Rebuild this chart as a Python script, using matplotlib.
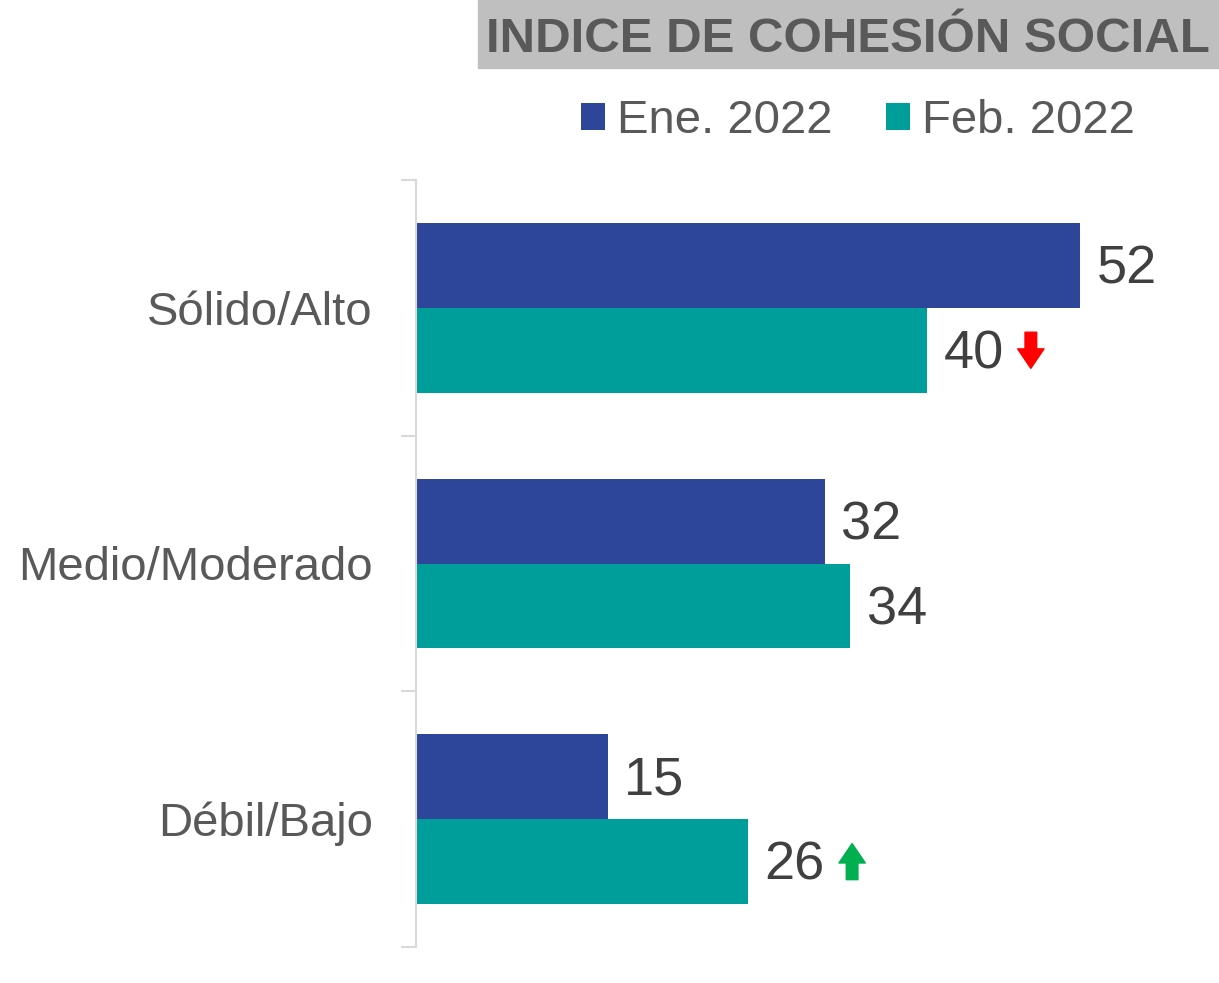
import matplotlib
matplotlib.use("Agg")
import matplotlib.pyplot as plt
import numpy as np
from matplotlib.transforms import offset_copy

categories = ["Sólido/Alto", "Medio/Moderado", "Débil/Bajo"]
series_names = ["Ene. 2022", "Feb. 2022"]
ene = [52, 32, 15]
feb = [40, 34, 26]
# change indicator on Feb values: -1 down, +1 up, 0 none
feb_change = [-1, 0, 1]

c_ene = "#2E4699"
c_feb = "#009E9A"
txt_grey = "#595959"
val_grey = "#404040"

plt.rcParams['font.family'] = ['Liberation Sans', 'DejaVu Sans']

fig = plt.figure(figsize=(12.19, 9.83), dpi=100)
ax = fig.add_axes([416/1219, 36/983, 766/1219, 767/983])

y = np.arange(len(categories))
h = 0.332
b1 = ax.barh(y - h/2, ene, height=h, color=c_ene)
b2 = ax.barh(y + h/2, feb, height=h, color=c_feb)

ax.set_ylim(len(categories) - 0.5, -0.5)
ax.set_xlim(0, 60)

for yi, v in zip(y, ene):
    ax.annotate(str(v), xy=(v, yi - h/2), xytext=(12, -3), textcoords="offset points",
                va="center", ha="left", fontsize=39, color=val_grey)
for yi, v, ch in zip(y, feb, feb_change):
    ax.annotate(str(v), xy=(v, yi + h/2), xytext=(12, -3), textcoords="offset points",
                va="center", ha="left", fontsize=39, color=val_grey)
    if ch != 0:
        col = "#FF0000" if ch < 0 else "#00B050"
        x_off = 75
        if ch < 0:
            start, end = (x_off, 13), (x_off, -13)
        else:
            start, end = (x_off, -13), (x_off, 13)
        t0 = offset_copy(ax.transData, fig=fig, x=start[0], y=start[1], units="points")
        t1 = offset_copy(ax.transData, fig=fig, x=end[0], y=end[1], units="points")
        p0 = t0.transform((v, yi + h/2))
        p1 = t1.transform((v, yi + h/2))
        ax.annotate("", xy=p1, xycoords="figure pixels", xytext=p0, textcoords="figure pixels",
                    arrowprops=dict(arrowstyle="simple,head_width=0.95,head_length=0.7,tail_width=0.42",
                                    color=col, shrinkA=0, shrinkB=0, mutation_scale=20))

ax.set_yticks(y)
ax.set_yticklabels(categories, fontsize=34, color=txt_grey)
ax.tick_params(axis="y", which="major", length=0, pad=31)
ax.set_yticks(np.arange(len(categories) + 1) - 0.5, minor=True)
ax.tick_params(axis="y", which="minor", length=11, width=1.5, color="#D9D9D9")
ax.set_xticks([])
for s in ["top", "right", "bottom"]:
    ax.spines[s].set_visible(False)
ax.spines["left"].set_color("#D9D9D9")
ax.spines["left"].set_linewidth(1.5)

# title with grey background band
fig.patches.append(matplotlib.patches.Rectangle((478/1219, 1 - 68/983), 1 - 478/1219, 68/983,
                                                transform=fig.transFigure, color="#BFBFBF", zorder=0))
fig.text(1 - 9/1219, 1 - 40/983, "INDICE DE COHESIÓN SOCIAL", ha="right", va="center",
         fontsize=35.5, fontweight="bold", color=txt_grey)

# legend
leg = fig.legend([b1, b2], series_names, loc="center", bbox_to_anchor=(858/1219, 1 - 121/983),
                 ncol=2, frameon=False, fontsize=34, labelcolor=txt_grey,
                 handlelength=0.5, handleheight=0.5, handletextpad=0.25, columnspacing=1.15)

fig.savefig("out.png", dpi=100)
